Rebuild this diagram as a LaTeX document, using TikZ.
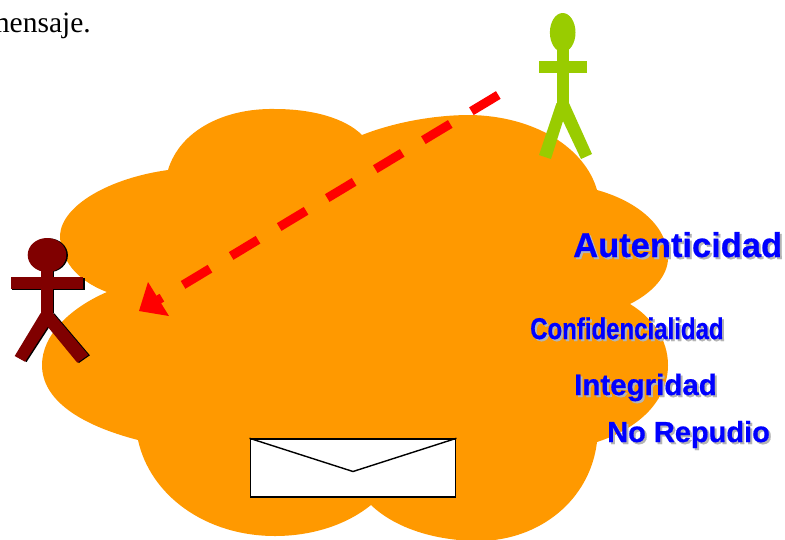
\documentclass[tikz,border=0pt]{standalone}
\usepackage{fontspec}
\setmainfont{Liberation Sans}
\newfontfamily\serifcap{Liberation Serif}
\newfontfamily\heavyface[FakeBold=0.6]{Liberation Sans Bold}
\definecolor{cloudor}{HTML}{FF9900}
\definecolor{bluetx}{HTML}{0000FF}
\definecolor{shadowtx}{HTML}{B4B4B4}
\definecolor{limefig}{HTML}{99CC00}
\definecolor{darkfig}{HTML}{800000}
\tikzset{
  shadowlabel/.style={text=shadowtx,inner sep=0pt,anchor=base west},
  mainlabel/.style={text=bluetx,inner sep=0pt,anchor=base west},
}
\newcommand{\quality}[6]{% name, x, y, size, xscale, text
  \node[shadowlabel] at (#2+2,#3+2) {\heavyface\fontsize{#4}{#4}\selectfont\scalebox{#5}[1]{#6}};
  \node[mainlabel] (#1) at (#2,#3) {\heavyface\fontsize{#4}{#4}\selectfont\scalebox{#5}[1]{#6}};
}
\begin{document}
\begin{tikzpicture}[x=1pt,y=-1pt]
\useasboundingbox (0,0) rectangle (785,539);
\clip (0,0) rectangle (785,539);
\fill[white] (0,0) rectangle (785,539);
% cloud
\fill[cloudor] (107,292)
  .. controls (75,280) and (60,258) .. (60,235)
  .. controls (62,205) and (110,178) .. (168,170)
  .. controls (180,130) and (225,108) .. (275,109)
  .. controls (312,109) and (345,118) .. (362,135)
  .. controls (395,122) and (435,115) .. (470,115)
  .. controls (535,116) and (585,148) .. (597,190)
  .. controls (640,202) and (668,228) .. (668,258)
  .. controls (668,276) and (652,293) .. (630,304)
  .. controls (653,318) and (668,340) .. (668,365)
  .. controls (668,400) and (640,428) .. (597,442)
  .. controls (590,500) and (540,540) .. (480,541)
  .. controls (435,541) and (395,528) .. (371,505)
  .. controls (345,526) and (310,536) .. (275,536)
  .. controls (205,536) and (150,495) .. (138,440)
  .. controls (80,425) and (42,400) .. (42,365)
  .. controls (42,335) and (70,308) .. (107,292) -- cycle;
% envelope
\node[draw=black,fill=white,line width=1.4pt,minimum width=205.5pt,minimum height=58pt,inner sep=0pt] (env) at (353,468) {};
\coordinate (flap) at (353,471.5);
\draw[line width=1.4pt] (env.north west) -- (flap) -- (env.north east);
% dashed arrow
\coordinate (a0) at (498.3,95);
\coordinate (a1) at (158,300);
\draw[red,line width=9pt,dash pattern=on 31.4pt off 24.7pt] (a0) -- (a1);
\fill[red] (139,311) -- (148,282) -- (169,316) -- cycle;
% dark figure
\begin{scope}[shift={(1.6,0.3)},black]
\fill (47,255) ellipse (19.3 and 17);
\fill (40.7,270) rectangle (52.7,313);
\fill (10.7,277.3) rectangle (83.3,289.3);
\fill (40.7,313) -- (52.7,313) -- (88.3,355) -- (77.3,362.7) -- (47.7,326.7) -- (25,361.7) -- (14.7,356) -- cycle;
\end{scope}
\begin{scope}[darkfig]
\fill (47,255) ellipse (19.3 and 17);
\fill (40.7,270) rectangle (52.7,313);
\fill (10.7,277.3) rectangle (83.3,289.3);
\fill (40.7,313) -- (52.7,313) -- (88.3,355) -- (77.3,362.7) -- (47.7,326.7) -- (25,361.7) -- (14.7,356) -- cycle;
\end{scope}
% green figure
\begin{scope}[limefig]
\fill (562.7,32.5) ellipse (12.8 and 19.5);
\fill (556.5,48) rectangle (569,104);
\fill (539,60.5) rectangle (587,72.5);
\fill (556.5,103) -- (569,103) -- (592,154) -- (581,159) -- (563,121) -- (551,159) -- (539,155) -- cycle;
\end{scope}
% texts
\quality{aut}{573}{257}{34.5}{1}{Autenticidad}
\quality{conf}{530}{339}{30}{0.8}{Confidencialidad}
\quality{integ}{574}{395}{29.5}{1}{Integridad}
\quality{norep}{607}{442}{29}{1}{No Repudio}
\node[inner sep=0pt,anchor=base east,font=\serifcap\fontsize{29.5}{29.5}\selectfont] (msg) at (91,32) {mensaje.};
\end{tikzpicture}
\end{document}
